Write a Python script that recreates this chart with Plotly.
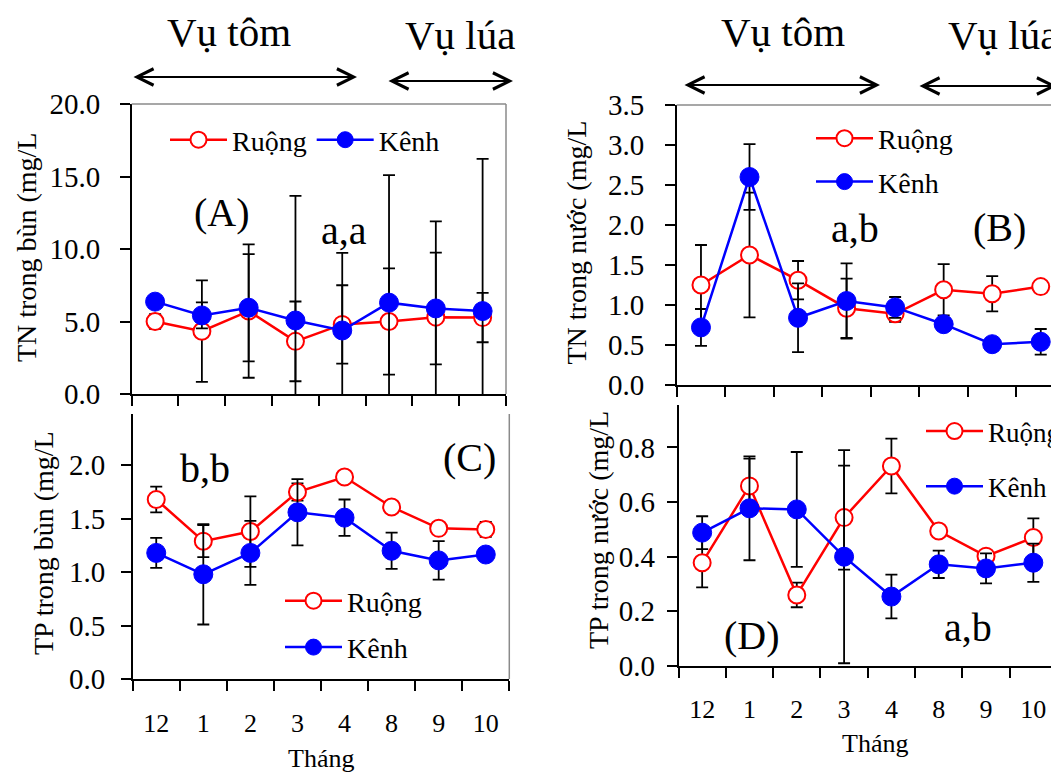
import plotly.graph_objects as go

# Page has an 8px body margin: convert screenshot pixels to figure pixels.
OFF = 8
W, H = 1080, 774
FONT = "Liberation Serif"

months = ["12", "1", "2", "3", "4", "8", "9", "10"]

# (A) TN trong bùn
tn_bun_ruong = [5.0, 4.33, 5.72, 3.63, 4.8, 5.0, 5.3, 5.27]
tn_bun_ruong_err = [0.5, 3.5, 4.6, 2.75, 2.7, 3.67, 6.6, 1.7]
tn_bun_kenh = [6.37, 5.42, 5.95, 5.07, 4.38, 6.3, 5.9, 5.72]
tn_bun_kenh_err = [0.3, 0.9, 3.7, 8.6, 5.35, 8.8, 3.85, 10.5]

# (B) TN trong nước
tn_nuoc_ruong = [1.25, 1.625, 1.31, 0.96, 0.89, 1.19, 1.14, 1.23]
tn_nuoc_ruong_err = [0.5, 0.78, 0.24, 0.37, 0.1, 0.32, 0.22, 0.04]
tn_nuoc_kenh = [0.72, 2.6, 0.84, 1.05, 0.97, 0.76, 0.51, 0.54]
tn_nuoc_kenh_err = [0.23, 0.41, 0.43, 0.47, 0.13, 0.05, 0.08, 0.16]

# (C) TP trong bùn
tp_bun_ruong = [1.68, 1.29, 1.38, 1.75, 1.89, 1.61, 1.41, 1.40]
tp_bun_ruong_err = [0.12, 0.15, 0.33, 0.08, 0.03, 0.03, 0.04, 0.07]
tp_bun_kenh = [1.18, 0.98, 1.18, 1.56, 1.51, 1.20, 1.11, 1.165]
tp_bun_kenh_err = [0.14, 0.47, 0.30, 0.31, 0.17, 0.17, 0.18, 0.06]

# (D) TP trong nước
tp_nuoc_ruong = [0.378, 0.659, 0.26, 0.543, 0.732, 0.494, 0.402, 0.47]
tp_nuoc_ruong_err = [0.09, 0.10, 0.045, 0.19, 0.10, 0.02, 0.02, 0.07]
tp_nuoc_kenh = [0.488, 0.577, 0.573, 0.40, 0.254, 0.372, 0.357, 0.378]
tp_nuoc_kenh_err = [0.06, 0.19, 0.21, 0.39, 0.08, 0.05, 0.055, 0.07]

series_names = ["Ruộng", "Kênh"]

RED = "#ff0000"
BLUE = "#0000ff"

panels = [
    ("A", "x", "y", "legend", tn_bun_ruong, tn_bun_ruong_err, tn_bun_kenh, tn_bun_kenh_err),
    ("B", "x2", "y2", "legend2", tn_nuoc_ruong, tn_nuoc_ruong_err, tn_nuoc_kenh, tn_nuoc_kenh_err),
    ("C", "x3", "y3", "legend3", tp_bun_ruong, tp_bun_ruong_err, tp_bun_kenh, tp_bun_kenh_err),
    ("D", "x4", "y4", "legend4", tp_nuoc_ruong, tp_nuoc_ruong_err, tp_nuoc_kenh, tp_nuoc_kenh_err),
]

fig = go.Figure()
for key, xa, ya, lg, r, re, k, ke in panels:
    fig.add_trace(go.Scatter(
        x=months, y=r, name=series_names[0], mode="lines+markers",
        xaxis=xa, yaxis=ya, legend=lg, legendgroup=key + "r",
        line=dict(color=RED, width=2.5),
        marker=dict(symbol="circle", size=17, color="white", line=dict(color=RED, width=2)),
        error_y=dict(type="data", array=re, visible=True, color="black", thickness=1.8, width=6),
    ))
    fig.add_trace(go.Scatter(
        x=months, y=k, name=series_names[1], mode="lines+markers",
        xaxis=xa, yaxis=ya, legend=lg, legendgroup=key + "k",
        line=dict(color=BLUE, width=2.5),
        marker=dict(symbol="circle", size=19, color=BLUE, line=dict(color=BLUE, width=1)),
        error_y=dict(type="data", array=ke, visible=True, color="black", thickness=1.8, width=6),
    ))


def fx(p):
    return (p - OFF) / W


def fy(p):
    return 1 - (p - OFF) / H


def dom_x(a, b):
    return [fx(a), fx(b)]


def dom_y(top, bottom):
    return [fy(bottom), fy(top)]


axis_common = dict(showline=True, linecolor="black", linewidth=1.5, ticks="outside",
                   ticklen=10, tickwidth=1.5, tickcolor="black", showgrid=False,
                   zeroline=False, tickfont=dict(family=FONT, size=29, color="black"))

xcommon = dict(axis_common, type="category", range=[-0.5, 7.5], tickson="boundaries",
               tickfont=dict(family=FONT, size=26, color="black"))

fig.update_layout(
    width=W, height=H, margin=dict(l=0, r=0, t=0, b=0, autoexpand=False),
    paper_bgcolor="white", plot_bgcolor="white",
    font=dict(family=FONT, color="black"),
    xaxis=dict(xcommon, domain=dom_x(131.7, 506), anchor="y", showticklabels=False),
    yaxis=dict(axis_common, domain=dom_y(104, 394), anchor="x", range=[0, 20],
               dtick=5, tickformat=".1f", ticklabelstandoff=14),
    xaxis2=dict(xcommon, domain=dom_x(676.7, 1065), anchor="y2", showticklabels=False),
    yaxis2=dict(axis_common, domain=dom_y(105, 385), anchor="x2", range=[0, 3.5],
                dtick=0.5, tickformat=".1f", ticklabelstandoff=15),
    xaxis3=dict(xcommon, domain=dom_x(132.7, 509.3), anchor="y3", ticklabelstandoff=20),
    yaxis3=dict(axis_common, domain=dom_y(414, 679), anchor="x3", range=[0, 2.48],
                dtick=0.5, tickformat=".1f", ticklabelstandoff=10),
    xaxis4=dict(xcommon, domain=dom_x(678.5, 1057), anchor="y4", ticklabelstandoff=19),
    yaxis4=dict(axis_common, domain=dom_y(405, 666), anchor="x4", range=[0, 0.955],
                dtick=0.2, tickformat=".1f", ticklabelstandoff=6),
)

leg_common = dict(font=dict(family=FONT, size=28, color="black"), bgcolor="rgba(0,0,0,0)",
                  itemwidth=57, itemclick=False, itemdoubleclick=False)
fig.update_layout(
    legend=dict(leg_common, orientation="h", x=fx(172 - 7), y=fy(140),
                xanchor="left", yanchor="middle", tracegroupgap=0),
    legend2=dict(leg_common, x=fx(818 - 7), y=fy(160), xanchor="left", yanchor="middle",
                 tracegroupgap=4),
    legend3=dict(leg_common, x=fx(287 - 7), y=fy(624), xanchor="left", yanchor="middle",
                 tracegroupgap=7),
    legend4=dict(leg_common, font=dict(family=FONT, size=27, color="black"),
                 x=fx(928 - 7), y=fy(459), xanchor="left", yanchor="middle",
                 tracegroupgap=17),
)

# top / right frame lines in grey
frame = "#8a8a8a"
shapes = []
for xa, ya, sides in [("x", "y", ["top", "right"]), ("x2", "y2", ["top"]),
                      ("x3", "y3", ["right"]), ("x4", "y4", ["right"])]:
    for s in sides:
        if s == "top":
            shapes.append(dict(type="line", xref=xa + " domain", yref=ya + " domain",
                               x0=0, x1=1, y0=1, y1=1, line=dict(color=frame, width=1.5)))
        else:
            shapes.append(dict(type="line", xref=xa + " domain", yref=ya + " domain",
                               x0=1, x1=1, y0=0, y1=1, line=dict(color=frame, width=1.5)))
fig.update_layout(shapes=shapes)


def ann(text, x, y, size, angle=0, yanchor="middle"):
    return dict(text=text, x=fx(x), y=fy(y), xref="paper", yref="paper",
                showarrow=False, xanchor="center", yanchor=yanchor, textangle=angle,
                borderpad=0,
                font=dict(family=FONT, size=size, color="black"))


annotations = [
    ann("Vụ tôm", 229, 8, 41, yanchor="top"), ann("Vụ lúa", 460, 11, 41, yanchor="top"),
    ann("Vụ tôm", 783, 8, 41, yanchor="top"), ann("Vụ lúa", 1003, 11, 41, yanchor="top"),
    ann("TN trong bùn (mg/L", 26, 248, 28, -90),
    ann("TN trong nước (mg/L", 575.5, 242, 28, -90),
    ann("TP trong bùn (mg/L", 43, 543, 28, -90),
    ann("TP trong nước (mg/L", 598, 530, 28, -90),
    ann("Tháng", 321, 758, 26), ann("Tháng", 875, 743, 26),
    ann("(A)", 222, 213, 40), ann("a,a", 344, 230, 40),
    ann("a,b", 855, 228, 40), ann("(B)", 999, 227, 40),
    ann("b,b", 205, 468, 40), ann("(C)", 469, 457, 40),
    ann("(D)", 752, 635, 40), ann("a,b", 968, 627, 40),
]

# season double arrows
for x0, x1, y in [(132, 357, 77), (387, 513, 81), (683, 880, 85), (918, 1057, 86)]:
    annotations.append(dict(x=fx(x1), y=fy(y), xref="paper", yref="paper",
                            ax=-(x1 - x0), ay=0, axref="pixel", ayref="pixel",
                            text="", showarrow=True, arrowhead=5, startarrowhead=5,
                            arrowside="end+start", arrowsize=1.8, startarrowsize=1.8,
                            arrowwidth=1.8, arrowcolor="black", standoff=0, startstandoff=0))

fig.update_layout(annotations=annotations)

fig.write_html("out.html")
